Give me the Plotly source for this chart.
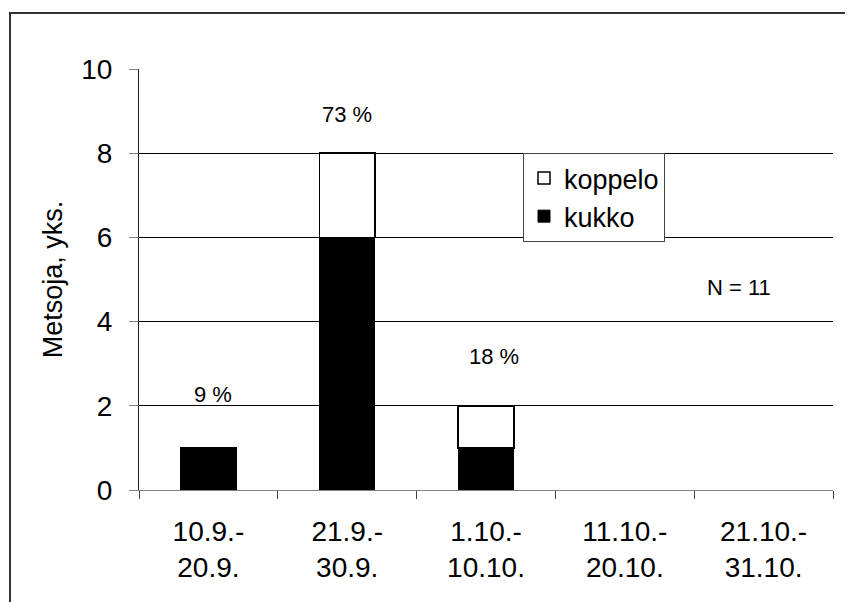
import plotly.graph_objects as go

categories = ["10.9.-<br>20.9.", "21.9.-<br>30.9.", "1.10.-<br>10.10.", "11.10.-<br>20.10.", "21.10.-<br>31.10."]
kukko = [1, 6, 1, 0, 0]
koppelo = [0, 2, 1, 0, 0]
y_ticks = [0, 2, 4, 6, 8, 10]
total_n = sum(kukko) + sum(koppelo)

FONT = "Arial, Liberation Sans, sans-serif"

# page body has an 8px offset; compensate so the plot area lands where the reference has it
OFF = 8
L, T = 139 - OFF, 69 - OFF
PW, PH = 694, 421
R = 853 - (L + PW)
B = 602 - (T + PH)

fig = go.Figure()
fig.add_trace(go.Bar(x=categories, y=[v if v else None for v in kukko], name="kukko",
                     marker=dict(color="black", line=dict(color="black", width=1)),
                     width=0.4))
fig.add_trace(go.Bar(x=categories, y=[v if v else None for v in koppelo], name="koppelo",
                     marker=dict(color="white", line=dict(color="black", width=1.5)),
                     width=0.4))

# percentage labels
pct_pos = [(0.03, 2.26), (1.0, 8.92), (2.06, 3.18)]
for i, (px, py) in enumerate(pct_pos):
    tot = kukko[i] + koppelo[i]
    fig.add_annotation(x=px, y=py, xref="x", yref="y",
                       text=f"{round(100 * tot / total_n)} %", showarrow=False,
                       font=dict(size=22, color="black", family=FONT))
fig.add_annotation(x=3.82, y=4.82, xref="x", yref="y", text=f"N = {total_n}",
                   showarrow=False, font=dict(size=22, color="black", family=FONT))

# outer frame
fig.add_shape(type="rect", xref="paper", yref="paper",
              x0=(10 - 139) / PW, x1=1.2, y0=-0.4, y1=(490 - 13) / PH,
              line=dict(color="#333333", width=2), fillcolor="rgba(0,0,0,0)", layer="below")

fig.update_layout(
    width=853, height=602,
    margin=dict(l=L, r=R, t=T, b=B, autoexpand=False),
    paper_bgcolor="white", plot_bgcolor="white",
    barmode="stack", bargap=0.6,
    font=dict(family=FONT, size=28, color="black"),
    showlegend=True,
    legend=dict(x=(523 - 139) / PW, y=(490 - 153) / PH, xanchor="left", yanchor="top",
                bordercolor="#444444", borderwidth=1, bgcolor="white",
                traceorder="reversed", font=dict(size=27, family=FONT),
                itemwidth=30),
    xaxis=dict(type="category", showgrid=False, showline=True, linecolor="#808080", linewidth=1,
               ticks="outside", tickson="boundaries", ticklen=8, tickcolor="#404040",
               tickfont=dict(size=28, family=FONT), ticklabelstandoff=16, fixedrange=True),
    yaxis=dict(range=[0, 10], tickvals=y_ticks, showgrid=True, gridcolor="black", gridwidth=1,
               showline=True, linecolor="#202020", linewidth=1, zeroline=True,
               zerolinecolor="#808080", zerolinewidth=1,
               ticks="outside", ticklen=9, tickcolor="#808080",
               tickfont=dict(size=28, family=FONT), ticklabelstandoff=11,
               title=dict(text="Metsoja, yks.", font=dict(size=27, family=FONT), standoff=10)),
)

fig.write_html("out.html")
